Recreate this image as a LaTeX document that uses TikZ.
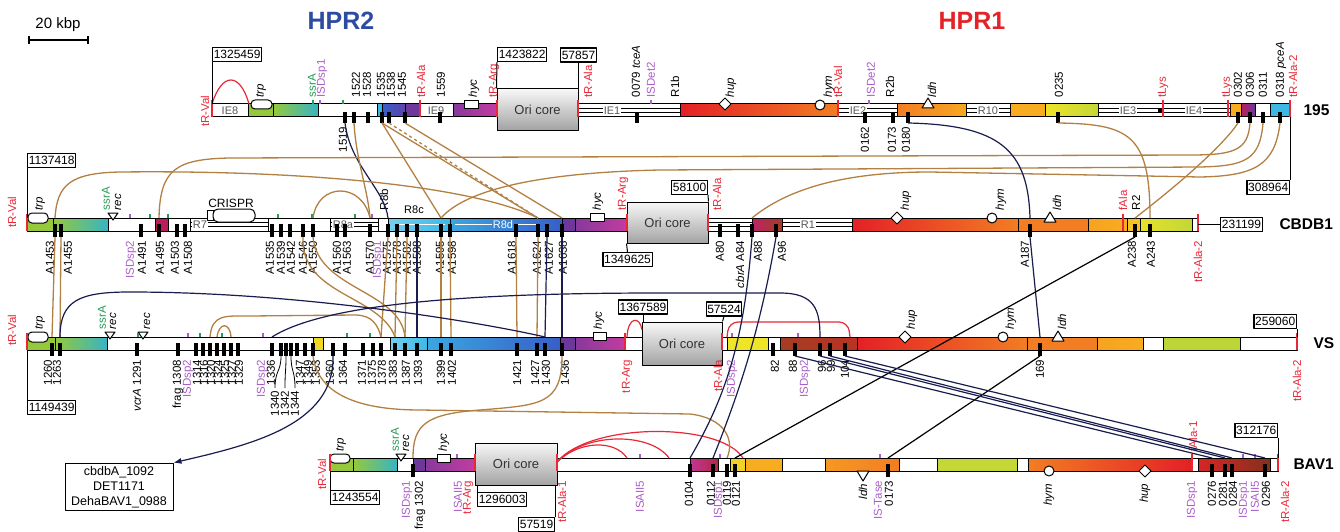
\documentclass[tikz,border=0pt]{standalone}
\usepackage{fontspec}
\setmainfont{Liberation Sans}
\usetikzlibrary{arrows.meta}

\definecolor{hprblue}{RGB}{45,75,160}
\definecolor{hprred}{RGB}{228,35,40}
\definecolor{trnared}{RGB}{232,40,55}
\definecolor{isdpurple}{RGB}{170,95,200}
\definecolor{ssrgreen}{RGB}{40,155,85}
\definecolor{linkbrown}{RGB}{178,128,66}
\definecolor{linknavy}{RGB}{25,28,78}
\definecolor{trpgreen}{RGB}{150,200,60}
\definecolor{tealc}{RGB}{55,180,195}
\definecolor{cyanc}{RGB}{60,185,230}
\definecolor{bluec}{RGB}{55,95,200}
\definecolor{violetc}{RGB}{110,55,155}
\definecolor{magc}{RGB}{195,60,160}
\definecolor{redc}{RGB}{228,32,38}
\definecolor{orangec}{RGB}{242,125,35}
\definecolor{amberc}{RGB}{248,172,32}
\definecolor{yellowc}{RGB}{238,228,40}
\definecolor{limec}{RGB}{195,215,55}
\definecolor{crimsonc}{RGB}{185,30,90}
\definecolor{brownc}{RGB}{165,60,35}

\tikzset{
  bar/.style={draw=black, line width=1pt},
  lab/.style={rotate=90, inner sep=0.6pt, font=\fontsize{11.5}{11.5}\selectfont},
  dn/.style={lab, anchor=east},
  up/.style={lab, anchor=west},
  numbox/.style={draw=black, line width=1.1pt, fill=white, inner sep=1.2pt,
    minimum height=14pt, font=\fontsize{12}{12}\selectfont},
  oricore/.style={draw=black, line width=1pt, top color=gray!6, bottom color=gray!72,
    font=\fontsize{13}{13}\selectfont, text=black!80},
  ie/.style={fill=white, inner sep=0.6pt, text=black!65, font=\fontsize{11}{11}\selectfont},
  trk/.style={font=\bfseries\fontsize{15.5}{16}\selectfont, anchor=west},
  brn/.style={draw=linkbrown, line width=1.3pt},
  nav/.style={draw=linknavy, line width=1.2pt},
  redarc/.style={draw=trnared, line width=1.2pt},
  tick/.style={line width=1.6pt},
  feat/.style={draw=black, fill=white, line width=1pt},
}

\begin{document}
\begin{tikzpicture}[x=1pt, y=-1pt, line join=round]
\useasboundingbox (0,0) rectangle (1340,532);

% titles, scale bar
\node[font=\bfseries\fontsize{25}{25}\selectfont, text=hprblue] (hpr2) at (341,21) {HPR2};
\node[font=\bfseries\fontsize{25}{25}\selectfont, text=hprred] (hpr1) at (972,21) {HPR1};
\node[font=\fontsize{15}{15}\selectfont] (kbp) at (58,25) {20 kbp};
\draw[line width=1.3pt] (29,40) -- (88,40) (29,36) -- (29,44) (88,36) -- (88,44);

%%%%%%%%%%%%%%%% 195
\draw[bar, fill=white] (212,104) rectangle (248,117);
\node[ie] at (230,110.5) {IE8};
\draw[bar, fill=trpgreen] (248,104) rectangle (273,117);
\shadedraw[bar, left color=trpgreen, right color=tealc] (273,104) rectangle (318,117);
\draw[bar, fill=white] (318,104) rectangle (377,117);
\draw[bar, fill=cyanc] (377,104) rectangle (382,117);
\shadedraw[bar, left color=bluec, right color=violetc!70!bluec] (382,104) rectangle (405,117);
\draw[bar, fill=violetc] (405,104) rectangle (420,117);
\draw[bar, fill=white] (420,104) rectangle (453,117);
\node[ie] at (436,110.5) {IE9};
\shadedraw[bar, left color=violetc!70!magc, right color=magc] (453,104) rectangle (497,117);
\draw[bar, fill=white] (578,104) rectangle (680,117);
\draw (578,108.5) -- (680,108.5) (578,112.5) -- (680,112.5);
\node[ie] at (612,110.5) {IE1};
\shadedraw[bar, left color=redc, right color=orangec] (680,104) rectangle (838,117);
\draw[bar, fill=white] (838,104) rectangle (897,117);
\draw (838,108.5) -- (897,108.5) (838,112.5) -- (897,112.5);
\node[ie] at (858,110.5) {IE2};
\shadedraw[bar, left color=orangec, right color=amberc!90!orangec] (897,104) rectangle (966,117);
\draw[bar, fill=white] (966,104) rectangle (1010,117);
\draw (966,108.5) -- (1010,108.5) (966,112.5) -- (1010,112.5);
\node[ie] at (988,110.5) {R10};
\draw[bar, fill=amberc] (1010,104) rectangle (1045,117);
\shadedraw[bar, left color=yellowc, right color=limec] (1045,104) rectangle (1098,117);
\draw[bar, fill=white] (1098,104) rectangle (1230,117);
\draw (1098,108.5) -- (1230,108.5) (1098,112.5) -- (1230,112.5);
\node[ie] at (1128,110.5) {IE3};
\node[ie] at (1194,110.5) {IE4};
\fill (1158,108) rectangle (1163,113);
\draw[bar, fill=amberc] (1230,104) rectangle (1241,117);
\shadedraw[bar, left color=crimsonc, right color=violetc] (1241,104) rectangle (1255,117);
\draw[bar, fill=white] (1255,104) rectangle (1270,117);
\draw[bar, fill=cyanc!90!tealc] (1270,104) rectangle (1290,117);
\node[oricore, minimum width=81pt, minimum height=41pt] (ori195) at (537.5,109.5) {Ori core};
\draw[feat, rounded corners=4pt] (251,100) rectangle (272,109);
\draw[feat] (464,101) rectangle (478,109);
\draw[feat] (725,98) -- (731,104) -- (725,110) -- (719,104) -- cycle;
\draw[feat] (820,105) circle (5);
\draw[feat] (928,98) -- (934,108) -- (922,108) -- cycle;
\foreach \x in {212,420,497,578,838,1163,1228,1290}
  \draw[trnared, tick] (\x,100) -- (\x,117);
\draw[redarc] (212,104) .. controls (222,72) and (240,72) .. (249,104);
\draw[ssrgreen, tick] (313,100) -- (313,104);
\draw[isdpurple, tick] (320,100) -- (320,104);
\draw[ssrgreen, tick] (343,100) -- (343,104);
\draw[isdpurple, tick] (651,100) -- (651,104);
\draw[isdpurple, tick] (869,100) -- (869,104);
\foreach \x/\nm in {345/1519, 354/1522, 368/1528, 382/1535, 389/1538, 405/1545, 440/1559,
    637/0079, 865/0162, 893/0173, 908/0180, 1058/0235, 1238/0302, 1250/0306, 1263/0311, 1280/0318}
  { \fill (\x-2,112) rectangle (\x+2,123); \coordinate (td\nm) at (\x,123); }
\node[lab, text=trnared] (tval195) at (205,111) {tR-Val};
\foreach \x/\t/\c in {261/{\itshape trp}/black, 312/ssrA/ssrgreen, 322/ISDsp1/isdpurple,
    356/1522/black, 367/1528/black, 381/1535/black, 391/1538/black, 402/1545/black,
    421/tR-Ala/trnared, 441/1559/black, 474/{\itshape hyc}/black, 494/tR-Arg/trnared,
    588/tR-Ala/trnared, 636/{0079 \itshape tceA}/black, 651/ISDet2/isdpurple, 675/R1b/black,
    731/{\itshape hup}/black, 829/{\itshape hym}/black, 838/tR-Val/trnared, 871/ISDet2/isdpurple,
    890/R2b/black, 932/{\itshape ldh}/black, 1059/0235/black, 1163/tLys/trnared, 1227/tLys/trnared,
    1238/0302/black, 1250/0306/black, 1263/0311/black, 1281/{0318 \itshape pceA}/black,
    1293/tR-Ala-2/trnared}
  \node[up, text=\c] at (\x,98) {\t};
\foreach \x/\t in {343/1519, 865/0162, 892/0173, 906/0180}
  \node[dn] at (\x,126) {\t};
\node[numbox, anchor=south west] (n1325459) at (212,62) {1325459};
\node[numbox, anchor=south west] (n1423822) at (497,62) {1423822};
\node[numbox] (n57857) at (578.5,55) {57857};
\node[numbox, anchor=north east] (n308964) at (1290,180) {308964};
\draw[line width=1pt] (n1325459.south west) -- (212,104);
\draw[line width=1pt] (n1423822.south west) -- (ori195.north west);
\draw[line width=1pt] (n57857.south) -- (ori195.north east);
\draw[line width=1pt] (1290,117) -- (n308964.north east);
\node[trk] (l195) at (1300,110.5) {195};

%%%%%%%%%%%%%%%% CBDB1
\draw[bar, fill=trpgreen] (27,218) rectangle (53,231);
\shadedraw[bar, left color=trpgreen, right color=tealc] (53,218) rectangle (108,231);
\draw[bar, fill=white] (108,218) rectangle (190,231);
\draw[bar, fill=crimsonc] (155,218) rectangle (168,231);
\draw[bar, fill=white] (190,218) rectangle (268,231);
\draw (190,222.5) -- (268,222.5) (190,226.5) -- (268,226.5);
\node[ie] at (200,224.5) {R7};
\draw[bar, fill=white] (268,218) rectangle (330,231);
\draw[bar, fill=white] (330,218) rectangle (378,231);
\draw (330,222.5) -- (378,222.5) (330,226.5) -- (378,226.5);
\node[ie] at (343,224.5) {R8a};
\draw[bar, fill=white] (378,218) rectangle (388,231);
\shadedraw[bar, left color=cyanc!70, right color=cyanc] (388,218) rectangle (450,231);
\draw[white, line width=1pt] (395,224.5) -- (445,224.5);
\shadedraw[bar, left color=cyanc!80!bluec, right color=bluec] (450,218) rectangle (562,231);
\draw[white, line width=1pt] (455,224.5) -- (540,224.5);
\node[text=white, font=\fontsize{11}{11}\selectfont, fill=cyanc!40!bluec, inner sep=0.5pt] at (503,224.5) {R8d};
\draw[bar, fill=violetc] (562,218) rectangle (575,231);
\shadedraw[bar, left color=violetc!70!magc, right color=magc] (575,218) rectangle (627,231);
\draw[bar, fill=white] (708,218) rectangle (752,231);
\draw (708,222.5) -- (752,222.5) (708,226.5) -- (752,226.5);
\shadedraw[bar, left color=crimsonc!80!magc, right color=brownc] (752,218) rectangle (782,231);
\draw[bar, fill=white] (782,218) rectangle (852,231);
\draw (782,222.5) -- (852,222.5) (782,226.5) -- (852,226.5);
\node[ie] at (808,224.5) {R1};
\shadedraw[bar, left color=redc, right color=orangec] (852,218) rectangle (1018,231);
\draw[bar, fill=orangec] (1018,218) rectangle (1088,231);
\shadedraw[bar, left color=amberc!80!orangec, right color=amberc] (1088,218) rectangle (1127,231);
\draw[bar, fill=amberc!60!yellowc] (1127,218) rectangle (1140,231);
\shadedraw[bar, left color=yellowc!80!limec, right color=limec] (1140,218) rectangle (1192,231);
\draw[bar, fill=white] (1192,218) rectangle (1198,231);
\node[oricore, minimum width=81pt, minimum height=41pt] (oriC) at (667.5,222.5) {Ori core};
\draw[feat, rounded corners=4pt] (28,213) rectangle (48,223);
\draw[feat] (108,213) -- (118,213) -- (113,220) -- cycle;
\draw[feat] (207,210) rectangle (213,220);
\draw[feat, rounded corners=5pt] (213,209) rectangle (255,222);
\node[font=\fontsize{12}{12}\selectfont] (crispr) at (231,203) {CRISPR};
\node[font=\fontsize{11}{11}\selectfont] (r8c) at (414,210) {R8c};
\draw[feat] (590,213) rectangle (604,221);
\draw[feat] (897,212) -- (903,218) -- (897,224) -- (891,218) -- cycle;
\draw[feat] (992,218) circle (5);
\draw[feat] (1050,212) -- (1056,222) -- (1044,222) -- cycle;
\foreach \x in {27,627,708,1123,1198}
  \draw[trnared, tick] (\x,214) -- (\x,231);
\foreach \x/\c in {130/isdpurple, 150/ssrgreen, 168/ssrgreen, 278/ssrgreen, 312/ssrgreen,
    355/ssrgreen, 372/isdpurple}
  \draw[\c, tick] (\x,214) -- (\x,218);
\foreach \x/\nm in {55/A1453, 61/A1455, 141/A1491, 159/A1495, 177/A1503, 185/A1508, 272/A1535,
    281/A1539, 290/A1542, 303/A1546, 313/A1550, 337/A1560, 345/A1563, 370/A1570, 388/A1575,
    397/A1578, 407/A1582, 417/A1588, 441/A1595, 450/A1598, 516/A1618, 538/A1624, 547/A1627,
    562/A1638, 720/A80, 738/A84, 752/A88, 776/A96, 1030/A187, 1135/A238, 1150/A243}
  { \fill (\x-2,224) rectangle (\x+2,237); \coordinate (cu\nm) at (\x,218);
    \coordinate (cd\nm) at (\x,237); }
\node[lab, text=trnared] (tvalC) at (12,212) {tR-Val};
\foreach \x/\t/\c in {40/{\itshape trp}/black, 106/ssrA/ssrgreen, 118/{\itshape rec}/black,
    384/R8b/black, 598/{\itshape hyc}/black, 623/tR-Arg/trnared, 717/tR-Ala/trnared,
    906/{\itshape hup}/black, 1001/{\itshape hym}/black, 1057/{\itshape ldh}/black,
    1123/fAla/trnared, 1136/R2/black}
  \node[up, text=\c] at (\x,211) {\t};
\foreach \x/\t/\c in {50/A1453/black, 68/A1455/black, 131/ISDsp2/isdpurple, 142/A1491/black,
    160/A1495/black, 175/A1503/black, 188/A1508/black, 270/A1535/black, 281/A1539/black,
    291/A1542/black, 303/A1546/black, 313/A1550/black, 337/A1560/black, 347/A1563/black,
    370/A1570/black, 378/ISDsp1/isdpurple, 387/A1575/black, 397/A1578/black, 407/A1582/black,
    417/A1588/black, 440/A1595/black, 452/A1598/black, 512/A1618/black, 537/A1624/black,
    549/A1627/black, 563/A1638/black, 720/A80/black, 740/{{\itshape cbrA} A84}/black,
    758/A88/black, 782/A96/black, 1025/A187/black, 1132/A238/black, 1151/A243/black,
    1198/tR-Ala-2/trnared}
  \node[dn, text=\c] at (\x,240) {\t};
\node[numbox, anchor=south west] (n1137418) at (27,168) {1137418};
\node[numbox, anchor=south east] (n58100) at (708,195) {58100};
\node[numbox] (n1349625) at (627.5,259.5) {1349625};
\node[numbox] (n231199) at (1241.5,224.5) {231199};
\draw[line width=1pt] (n1137418.south west) -- (27,218);
\draw[line width=1pt] (n58100.south east) -- (oriC.north east);
\draw[line width=1pt] (oriC.south west) -- (n1349625.north);
\draw[line width=1pt] (1198,224.5) -- (n231199.west);
\node[trk] (lC) at (1276,224.5) {CBDB1};

%%%%%%%%%%%%%%%% VS
\draw[bar, fill=trpgreen] (27,337) rectangle (55,350);
\shadedraw[bar, left color=trpgreen, right color=tealc] (55,337) rectangle (107,350);
\draw[bar, fill=white] (107,337) rectangle (313,350);
\draw[bar, fill=yellowc!80!amberc] (313,337) rectangle (323,350);
\draw[bar, fill=white] (323,337) rectangle (390,350);
\shadedraw[bar, left color=cyanc!70, right color=cyanc] (390,337) rectangle (427,350);
\shadedraw[bar, left color=cyanc!80!bluec, right color=bluec] (427,337) rectangle (560,350);
\draw[bar, fill=violetc] (560,337) rectangle (575,350);
\shadedraw[bar, left color=violetc!70!magc, right color=magc] (575,337) rectangle (625,350);
\draw[bar, fill=white] (625,337) rectangle (642,350);
\draw[bar, fill=white] (722,337) rectangle (727,350);
\draw[bar, fill=yellowc] (727,337) rectangle (768,350);
\draw[bar, fill=white] (768,337) rectangle (780,350);
\shadedraw[bar, left color=brownc, right color=brownc!70!redc] (780,337) rectangle (857,350);
\shadedraw[bar, left color=redc, right color=orangec] (857,337) rectangle (1027,350);
\draw[bar, fill=orangec] (1027,337) rectangle (1097,350);
\shadedraw[bar, left color=amberc!80!orangec, right color=amberc] (1097,337) rectangle (1143,350);
\draw[bar, fill=white] (1143,337) rectangle (1163,350);
\draw[bar, fill=limec!90!trpgreen] (1163,337) rectangle (1240,350);
\draw[bar, fill=white] (1240,337) rectangle (1297,350);
\node[oricore, minimum width=80pt, minimum height=43pt] (oriV) at (682,343.5) {Ori core};
\draw[feat, rounded corners=4pt] (28,332) rectangle (48,342);
\draw[feat] (105,332) -- (115,332) -- (110,339) -- cycle;
\draw[feat] (138,332) -- (148,332) -- (143,339) -- cycle;
\draw[feat] (593,332) rectangle (606,340);
\draw[feat] (905,331) -- (911,337) -- (905,343) -- (899,337) -- cycle;
\draw[feat] (1003,337) circle (5);
\draw[feat] (1058,331) -- (1064,341) -- (1052,341) -- cycle;
\foreach \x in {27,625,722,1297}
  \draw[trnared, tick] (\x,333) -- (\x,350);
\foreach \x/\c in {138/ssrgreen, 188/isdpurple, 200/ssrgreen, 222/ssrgreen, 263/isdpurple,
    347/ssrgreen, 370/ssrgreen, 732/isdpurple, 798/isdpurple}
  \draw[\c, tick] (\x,333) -- (\x,337);
\draw[redarc] (627,337) .. controls (628,316) and (640,316) .. (642,330);
\draw[redarc, rounded corners=9pt] (727,337) -- (729,322) -- (848,322) -- (850,337);
\foreach \x/\nm in {52/1260, 60/1263, 137/1291, 178/1308, 196/1314, 203/1316, 210/1320,
    217/1324, 224/1325, 231/1327, 238/1329, 272/1336, 281/1340, 286/1342, 291/1344, 297/1347,
    305/1349, 313/1353, 333/1360, 345/1364, 363/1371, 373/1375, 381/1378, 395/1383, 405/1387,
    417/1393, 441/1399, 451/1402, 517/1421, 537/1427, 545/1430, 562/1436, 773/82, 795/88,
    820/96, 830/99, 845/104, 1040/169}
  { \fill (\x-2,343) rectangle (\x+2,356); \coordinate (vu\nm) at (\x,337);
    \coordinate (vd\nm) at (\x,356); }
\node[lab, text=trnared] (tvalV) at (12,330) {tR-Val};
\foreach \x/\t/\c in {40/{\itshape trp}/black, 102/ssrA/ssrgreen, 113/{\itshape rec}/black,
    147/{\itshape rec}/black, 599/{\itshape hyc}/black, 912/{\itshape hup}/black,
    1011/{\itshape hym}/black, 1062/{\itshape ldh}/black}
  \node[up, text=\c] at (\x,330) {\t};
\foreach \x/\t/\c in {48/1260/black, 57/1263/black, 137/{{\itshape vcrA} 1291}/black,
    178/frag 1308/black, 188/ISDsp2/isdpurple, 197/1314/black, 204/1316/black, 211/1320/black,
    218/1324/black, 225/1325/black, 232/1327/black, 239/1329/black, 262/ISDsp2/isdpurple,
    271/1336/black, 300/1347/black, 308/1349/black, 316/1353/black, 330/1360/black,
    343/1364/black, 362/1371/black, 372/1375/black, 382/1378/black, 393/1383/black,
    406/1387/black, 418/1393/black, 441/1399/black, 452/1402/black, 517/1421/black,
    535/1427/black, 546/1430/black, 565/1436/black, 627/tR-Arg/trnared, 718/tR-Ala/trnared,
    732/ISDsp2/isdpurple, 775/82/black, 793/88/black, 805/ISDsp2/isdpurple, 822/96/black,
    831/99/black, 845/104/black, 1040/169/black, 1297/tR-Ala-2/trnared}
  \node[dn, text=\c] at (\x,359) {\t};
\foreach \x/\lx/\t in {281/275/1340, 286/285/1342, 291/295/1344} {
  \draw[line width=0.8pt] (\x,356) .. controls (\x,372) and (\lx,370) .. (\lx,388);
  \node[dn] at (\lx,390) {\t};
}
\node[numbox, anchor=north west] (n1149439) at (27,400) {1149439};
\node[numbox] (n1367589) at (643,307) {1367589};
\node[numbox] (n57524) at (724,309) {57524};
\node[numbox, anchor=south east] (n259060) at (1297,329) {259060};
\draw[line width=1pt] (27,350) -- (n1149439.north west);
\draw[line width=1pt] (n1367589.south) -- (643,322);
\draw[line width=1pt] (n57524.south) -- (oriV.north east);
\draw[line width=1pt] (n259060.south east) -- (1297,337);
\node[trk] (lV) at (1310,343.5) {VS};

%%%%%%%%%%%%%%%% BAV1
\draw[bar, fill=trpgreen] (330,458) rectangle (353,471);
\shadedraw[bar, left color=trpgreen, right color=tealc] (353,458) rectangle (397,471);
\draw[bar, fill=white] (397,458) rectangle (413,471);
\draw[bar, fill=violetc] (413,458) rectangle (425,471);
\shadedraw[bar, left color=violetc!70!magc, right color=magc] (425,458) rectangle (475,471);
\draw[bar, fill=white] (557,458) rectangle (690,471);
\shadedraw[bar, left color=magc!80!crimsonc, right color=crimsonc!70!brownc] (690,458) rectangle (718,471);
\draw[bar, fill=white] (718,458) rectangle (730,471);
\draw[bar, fill=yellowc!70!amberc] (730,458) rectangle (745,471);
\draw[bar, fill=amberc] (745,458) rectangle (782,471);
\draw[bar, fill=white] (782,458) rectangle (825,471);
\shadedraw[bar, left color=amberc!60!orangec, right color=orangec] (825,458) rectangle (899,471);
\draw[bar, fill=white] (899,458) rectangle (937,471);
\draw[bar, fill=limec] (937,458) rectangle (1017,471);
\draw[bar, fill=white] (1017,458) rectangle (1028,471);
\shadedraw[bar, left color=orangec, right color=redc] (1028,458) rectangle (1192,471);
\draw[bar, fill=white] (1192,458) rectangle (1198,471);
\shadedraw[bar, left color=redc!80!brownc, right color=brownc!80!black] (1198,458) rectangle (1270,471);
\draw[bar, fill=white] (1270,458) rectangle (1278,471);
\node[oricore, minimum width=82pt, minimum height=42pt] (oriB) at (516,464) {Ori core};
\draw[feat, rounded corners=4pt] (330,454) rectangle (350,463);
\draw[feat] (396,454) -- (406,454) -- (401,461) -- cycle;
\draw[feat] (437,454) rectangle (450,462);
\draw[feat] (857,471) -- (869,471) -- (863,481) -- cycle;
\draw[feat] (1049,471) circle (5);
\draw[feat] (1145,465) -- (1151,471) -- (1145,477) -- (1139,471) -- cycle;
\foreach \x in {330,475,557,1192,1278}
  \draw[trnared, tick] (\x,454) -- (\x,471);
\foreach \x in {457,640,720,880,1243,1255}
  \draw[isdpurple, tick] (\x,454) -- (\x,458);
\draw[redarc] (557,462) .. controls (580,440) and (615,440) .. (627,458);
\draw[redarc] (557,462) .. controls (585,432) and (650,432) .. (669,458);
\draw[redarc] (557,462) .. controls (590,422) and (720,422) .. (743,458);
\foreach \x/\nm in {413/1302, 690/0104, 713/0112, 727/0119, 735/0121, 888/0173, 1212/0276,
    1225/0281, 1232/0284, 1265/0296}
  { \fill (\x-2,464) rectangle (\x+2,477); \coordinate (bu\nm) at (\x,458);
    \coordinate (bd\nm) at (\x,477); }
\node[lab, text=trnared] (tvalB) at (322,474) {tR-Val};
\foreach \x/\t/\c in {341/{\itshape trp}/black, 395/ssrA/ssrgreen, 406/{\itshape rec}/black,
    444/{\itshape hyc}/black, 1193/fAla-1/trnared}
  \node[up, text=\c] at (\x,452) {\t};
\foreach \x/\t/\c in {407/ISDsp1/isdpurple, 420/frag 1302/black, 458/ISAII5/isdpurple,
    468/tR-Arg/trnared, 562/tR-Ala-1/trnared, 640/ISAII5/isdpurple, 689/0104/black,
    711/0112/black, 719/ISDsp1/isdpurple, 727/0119/black, 736/0121/black,
    878/IS-Tase/isdpurple, 889/0173/black, 1192/ISDsp1/isdpurple, 1212/0276/black,
    1223/0281/black, 1233/0284/black, 1244/ISDsp1/isdpurple, 1255/ISAII5/isdpurple,
    1266/0296/black, 1285/tR-Ala-2/trnared}
  \node[dn, text=\c] at (\x,480) {\t};
\foreach \x/\t in {863/ldh, 1049/hym, 1145/hup}
  \node[dn] at (\x,483) {\itshape\t};
\node[numbox, anchor=north west] (n1243554) at (330,490) {1243554};
\node[numbox, anchor=north west] (n1296003) at (477,492) {1296003};
\node[numbox, anchor=north east] (n57519) at (555,517) {57519};
\node[numbox, anchor=south east] (n312176) at (1278,438) {312176};
\draw[line width=1pt] (330,471) -- (n1243554.north west);
\draw[line width=1pt] (477,485) -- (n1296003.north west);
\draw[line width=1pt] (555,485) -- (n57519.north east);
\draw[line width=1pt] (n312176.south east) -- (1278,458);
\node[trk] (lB) at (1290,464.5) {BAV1};

\node[draw, line width=1pt, align=center, inner sep=3pt, minimum width=108pt,
  font=\fontsize{12.5}{15}\selectfont] (genes) at (119,487) {cbdbA\_1092\\DET1171\\DehaBAV1\_0988};

%%%%%%%%%%%%%%%% links 195 -> CBDB1
\draw[nav] (td1519) .. controls (350,165) and (385,190) .. (cuA1575);
\draw[brn] (td1522) .. controls (356,160) and (368,190) .. (cuA1570);
\draw[brn] (td1535) -- (cuA1595);
\draw[brn] (td1535) -- (cuA1624);
\draw[brn, dash pattern=on 3pt off 3pt] (td1538) -- (cuA1624);
\draw[brn] (td1545) -- (cuA1638);
\draw[brn] (td0235) .. controls (1130,124) and (1150,135) .. (cuA243);
\draw[brn] (td0302) .. controls (1220,150) and (1165,195) .. (cuA238);
\draw[brn] (td0306) .. controls (1248,150) and (1235,155) .. (1190,155) -- (230,158)
  .. controls (175,159) and (160,170) .. (cuA1495);
\draw[brn] (td0311) .. controls (1260,160) and (1245,166) .. (1200,167) -- (660,170)
  .. controls (560,172) and (470,185) .. (cuA1595);
\draw[brn] (td0318) .. controls (1275,165) and (1255,176) .. (1200,177) -- (930,172)
  .. controls (830,172) and (780,195) .. (cuA88);
\draw[nav] (td0180) .. controls (1000,125) and (1028,150) .. (cuA187);
\draw[brn] (cuA1453) .. controls (57,185) and (70,173) .. (120,172) .. controls (300,170)
  and (470,185) .. (cuA1624);
\draw[brn] (cuA1550) .. controls (318,182) and (362,182) .. (cuA1570);

%%%%%%%%%%%%%%%% links CBDB1 -> VS
\draw[brn] (cdA1453) -- (vu1260);
\draw[brn] (cdA1455) -- (vu1263);
\draw[brn] (cdA1546) .. controls (300,295) and (380,295) .. (vu1383);
\draw[brn] (cdA1550) .. controls (318,290) and (400,290) .. (vu1387);
\draw[brn] (vu1320) .. controls (212,314) and (225,316) .. (250,316) -- (355,315)
  .. controls (372,315) and (378,325) .. (vu1378);
\draw[brn] (vu1324) .. controls (219,322) and (230,322) .. (vu1327);
\draw[brn] (cdA1575) -- (vu1378);
\draw[brn] (cdA1578) -- (vu1383);
\draw[brn] (cdA1582) -- (vu1387);
\draw[nav] (cdA1588) -- (vu1393);
\draw[brn] (cdA1595) -- (vu1399);
\draw[brn] (cdA1598) -- (vu1402);
\draw[brn] (cdA1618) -- (vu1421);
\draw[brn] (cdA1624) -- (vu1427);
\draw[nav] (cdA1627) -- (vu1430);
\draw[nav] (cdA1638) -- (vu1436);
\draw[nav] (cdA187) -- (vu169);
\draw[nav] (vu1263) .. controls (60,300) and (80,292) .. (130,292) .. controls (300,292)
  and (480,322) .. (vu1430);
\draw[nav] (vu1336) .. controls (330,300) and (500,293) .. (660,293) -- (780,293)
  .. controls (815,293) and (820,310) .. (vu96);

%%%%%%%%%%%%%%%% links -> BAV1
\draw[brn] (vd1436) .. controls (562,405) and (540,405) .. (480,410) .. controls (425,414) and (413,425) .. (bu1302);
\draw[brn] (vd1353) .. controls (318,395) and (360,410) .. (420,410) -- (690,414)
  .. controls (725,418) and (735,440) .. (bu0119);
\draw[nav, -{Latex[length=8pt, width=6pt]}] (vd1360) .. controls (335,425) and (250,445) .. (genes.north east);
\draw[nav] (cdA88) .. controls (745,330) and (730,390) .. (bu0104);
\draw[nav] (cdA96) .. controls (760,330) and (740,390) .. (bu0112);
\draw[line width=1.2pt] (cdA238) -- (bu0121);
\draw[line width=1.2pt] (vd169) -- (bu0173);
\draw[nav] (vd88) -- (bu0276);
\draw[nav] (vd96) -- (bu0281);
\draw[nav] (vd99) -- (bu0284);
\draw[nav] (vd104) -- (bu0296);
\end{tikzpicture}
\end{document}
